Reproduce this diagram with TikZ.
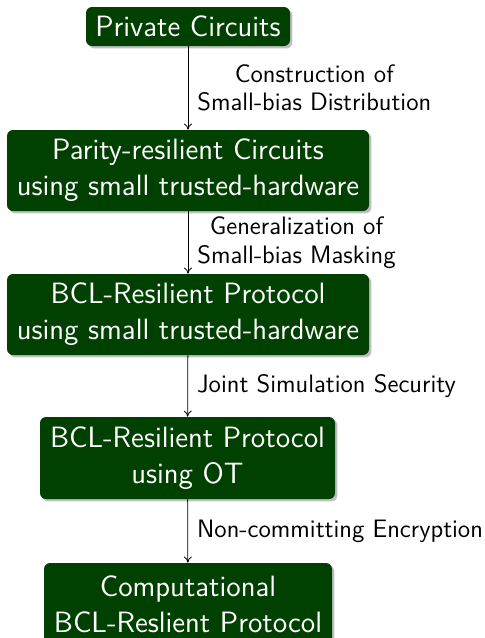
\documentclass[tikz,border=0pt]{standalone}
\usetikzlibrary{shadows,arrows.meta}
\definecolor{boxgreen}{RGB}{0,64,0}
\begin{document}
\begin{tikzpicture}[x=0.5pt,y=-0.5pt,
  font=\sffamily,
  stepbox/.style={rectangle, rounded corners=3pt, fill=boxgreen, text=white,
    align=center, inner sep=0pt, font=\sffamily\fontsize{14.7}{18}\selectfont,
    drop shadow={shadow xshift=1.2pt, shadow yshift=-1.2pt, opacity=0.25, fill=black}},
  lbl/.style={midway, right, align=center, inner sep=0pt, xshift=4.5pt,
    font=\sffamily\fontsize{12.6}{14.2}\selectfont},
  link/.style={draw=black, line width=0.4pt, -{To[length=3pt,width=4pt]}}]
\useasboundingbox (0,0) rectangle (485,638);
\begin{scope}
\clip (0,0) rectangle (485,638);
\node[stepbox, minimum width=102pt, minimum height=19.5pt] (n1) at (188,26.5) {Private Circuits};
\node[stepbox, minimum width=181pt, minimum height=40.5pt] (n2) at (188,170.5) {Parity-resilient Circuits\\using small trusted-hardware};
\node[stepbox, minimum width=181pt, minimum height=40.5pt] (n3) at (188,314.5) {BCL-Resilient Protocol\\using small trusted-hardware};
\node[stepbox, minimum width=147.5pt, minimum height=41pt] (n4) at (187.5,458) {BCL-Resilient Protocol\\using OT};
\node[stepbox, minimum width=144pt, minimum height=41pt] (n5) at (188,604) {Computational\\BCL-Reslient Protocol};
\end{scope}
\draw[link] (n1) -- (n2) node[lbl] {Construction of\\Small-bias Distribution};
\draw[link] (n2) -- (n3) node[lbl] {Generalization of\\Small-bias Masking};
\draw[link] (n3) -- (n4) node[lbl] {Joint Simulation Security};
\draw[link] (n4) -- (n5) node[lbl] {Non-committing Encryption};
\end{tikzpicture}
\end{document}
